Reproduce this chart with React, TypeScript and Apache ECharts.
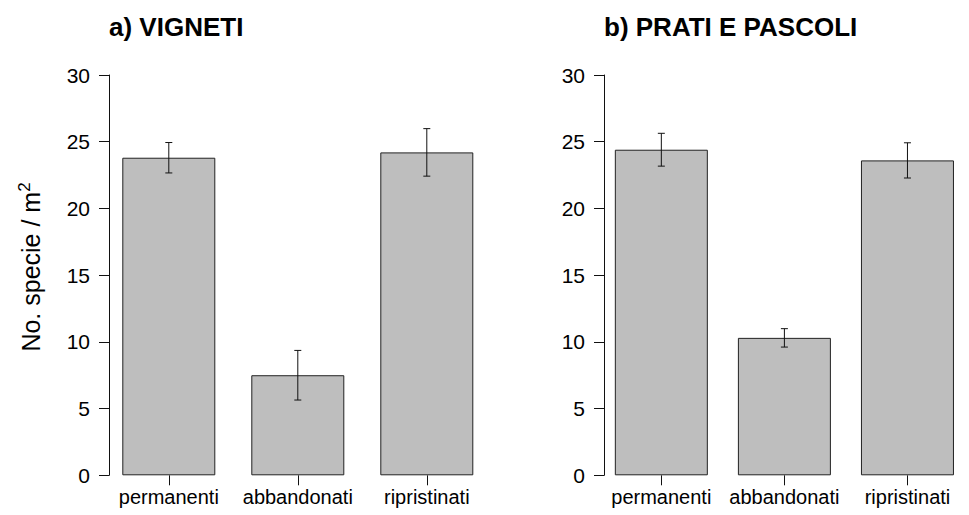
import React, { useEffect, useRef } from "react";
import * as echarts from "echarts";

const categories = ["permanenti", "abbandonati", "ripristinati"];
const vignetiMeans = [23.8, 7.5, 24.2];
const vignetiErr = [1.14, 1.86, 1.78];
const pratiMeans = [24.4, 10.3, 23.6];
const pratiErr = [1.23, 0.69, 1.32];
const yTicks = [0, 5, 10, 15, 20, 25, 30];
const titles = ["a) VIGNETI", "b) PRATI E PASCOLI"];
const yName = "No. specie / m";

const FONT = "Liberation Sans, Arial, sans-serif";

function errData(means: number[], errs: number[]) {
  return means.map((m, i) => [i, m - errs[i], m + errs[i]]);
}

function renderErr(params: any, api: any) {
  const x = api.value(0);
  const lo = api.coord([x, api.value(1)]);
  const hi = api.coord([x, api.value(2)]);
  const cap = 3.5;
  const style = { stroke: "#111", lineWidth: 1 };
  return {
    type: "group",
    children: [
      { type: "line", shape: { x1: lo[0], y1: lo[1], x2: hi[0], y2: hi[1] }, style },
      { type: "line", shape: { x1: lo[0] - cap, y1: lo[1], x2: lo[0] + cap, y2: lo[1] }, style },
      { type: "line", shape: { x1: hi[0] - cap, y1: hi[1], x2: hi[0] + cap, y2: hi[1] }, style },
    ],
  };
}

export default function App() {
  const ref = useRef<HTMLDivElement>(null);
  useEffect(() => {
    document.body.style.margin = "0";
    const chart = echarts.init(ref.current!, null, { renderer: "svg" });
    const gridTop = 75;
    const gridHeight = 400.3;
    const grids = [
      { left: 104.3, top: gridTop, width: 387, height: gridHeight, axisX: 109 },
      { left: 599.8, top: gridTop, width: 387, height: gridHeight, axisX: 604 },
    ];
    const xAxes = grids.map((g, i) => ({
      type: "category",
      gridIndex: i,
      data: categories,
      boundaryGap: true,
      axisLine: { show: false },
      axisTick: { show: true, alignWithLabel: true, length: 10, lineStyle: { color: "#111" } },
      axisLabel: { margin: 12, fontSize: 20, color: "#000", fontFamily: FONT, interval: 0 },
      splitLine: { show: false },
    }));
    const yAxes = grids.map((g, i) => ({
      type: "value",
      gridIndex: i,
      min: 0,
      max: 30,
      interval: 5,
      offset: -(g.axisX - g.left),
      axisLine: { show: true, lineStyle: { color: "#111", width: 1 } },
      axisTick: { show: true, length: 10, lineStyle: { color: "#111" } },
      axisLabel: {
        margin: 19,
        fontSize: 21,
        color: "#000",
        fontFamily: FONT,
        customValues: yTicks,
      },
      splitLine: { show: false },
    }));
    const barSeries = [vignetiMeans, pratiMeans].map((d, i) => ({
      type: "bar",
      xAxisIndex: i,
      yAxisIndex: i,
      data: d,
      barWidth: 93,
      clip: false,
      itemStyle: { color: "#BEBEBE", borderColor: "#222", borderWidth: 1 },
    }));
    const errSeries = [
      errData(vignetiMeans, vignetiErr),
      errData(pratiMeans, pratiErr),
    ].map((d, i) => ({
      type: "custom",
      xAxisIndex: i,
      yAxisIndex: i,
      data: d,
      clip: false,
      encode: { x: 0, y: [1, 2] },
      renderItem: renderErr,
      z: 5,
    }));
    chart.setOption({
      animation: false,
      backgroundColor: "#fff",
      title: titles.map((t, i) => ({
        text: t,
        left: grids[i].axisX,
        top: 14,
        padding: 0,
        textStyle: { fontSize: 26, fontWeight: "bold", color: "#000", fontFamily: FONT },
      })),
      grid: grids.map((g) => ({ left: g.left, top: g.top, width: g.width, height: g.height })),
      xAxis: xAxes,
      yAxis: yAxes,
      series: [...barSeries, ...errSeries],
      graphic: [
        {
          type: "text",
          x: 31,
          y: 267,
          rotation: Math.PI / 2,
          style: {
            text: yName + "{s|2}",
            font: `25px ${FONT}`,
            fill: "#000",
            textAlign: "center",
            textVerticalAlign: "middle",
            rich: {
              s: { fontSize: 17, fontFamily: FONT, fill: "#000", verticalAlign: "top", padding: [0, 0, 14, 0] },
            },
          },
        },
      ],
    });
    return () => chart.dispose();
  }, []);
  return <div ref={ref} style={{ width: 969, height: 515 }} />;
}
